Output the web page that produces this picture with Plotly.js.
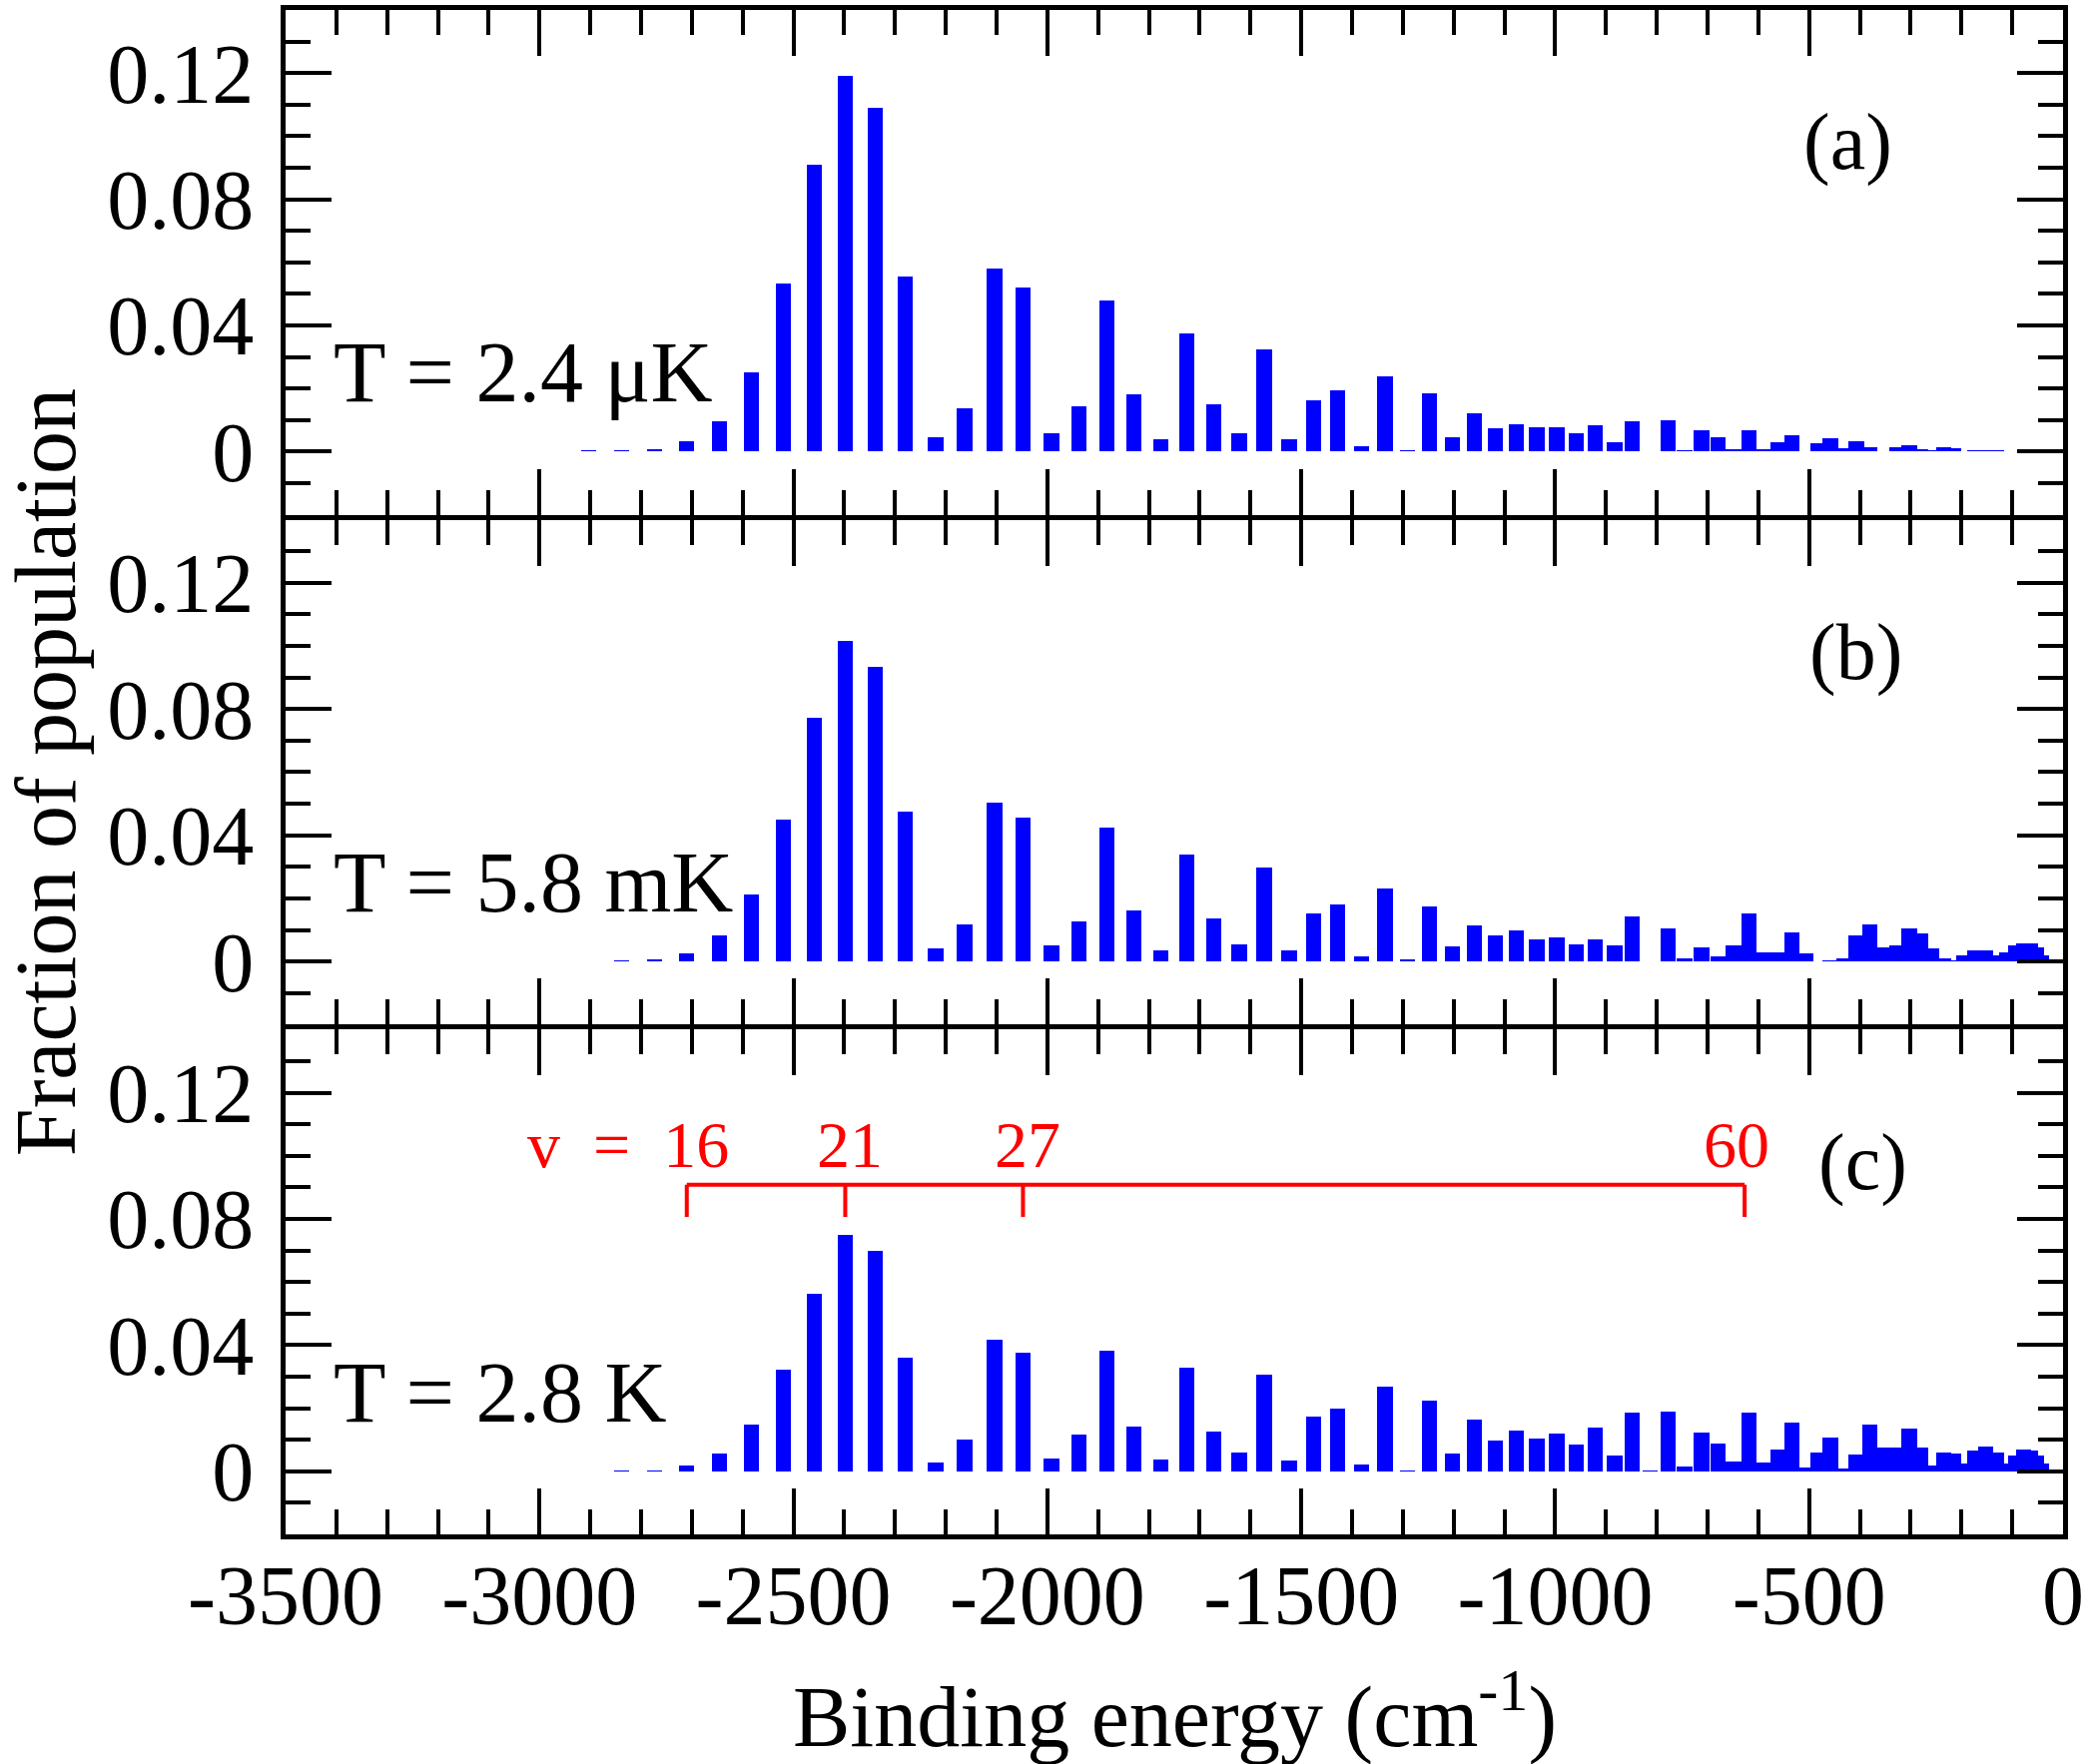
<!DOCTYPE html>
<html>
<head>
<meta charset="utf-8">
<script src="https://cdn.plot.ly/plotly-3.0.1.min.js"></script>
<style>
  html, body { margin: 0; padding: 0; background: #fff; }
  #chart { width: 2096px; height: 1767px; }
</style>
</head>
<body>
<div id="chart"></div>
<script>
// binding energies of the levels (cm^-1)
var LEVELS = [-2903, -2838, -2773, -2710, -2646, -2583, -2520, -2459, -2398, -2339,
  -2280, -2220, -2163, -2104, -2048, -1992, -1938, -1883, -1829, -1776,
  -1725, -1672, -1622, -1573, -1524, -1476, -1429, -1382, -1335, -1291,
  -1247, -1203, -1159, -1118, -1077, -1036, -997, -958, -921, -883,
  -848, -813, -778, -745, -712, -680, -649, -619, -589, -562,
  -534, -507, -483, -458, -431, -407, -380, -352, -327, -303,
  -280, -258, -235, -215, -195, -174, -152, -131, -111, -93,
  -78, -64, -52, -42];

// fraction of population, T = 2.4 uK
var POP_A = [0.0004, 0.0004, 0.0008, 0.0033, 0.0097, 0.025, 0.0533, 0.091, 0.119, 0.109,
  0.0554, 0.0047, 0.0137, 0.0579, 0.0521, 0.0058, 0.0144, 0.0479, 0.0181, 0.0041,
  0.0375, 0.0149, 0.0059, 0.0323, 0.0039, 0.0163, 0.0196, 0.0016, 0.0238, 0.0006,
  0.0184, 0.0047, 0.0122, 0.0074, 0.0086, 0.0077, 0.0077, 0.0059, 0.0084, 0.0029,
  0.0097, 0.0003, 0.01, 0.0004, 0.0067, 0.0045, 0.0009, 0.0069, 0.0007, 0.0029,
  0.0052, 0.0001, 0.0027, 0.0043, 0.0011, 0.0033, 0.0014, 0.0002, 0.0014, 0.0022,
  0.0009, 0.0005, 0.0014, 0.0012, 0.0003, 0.0005, 0.0006, 0.0004, 0.0002, 0.0001,
  0.0001, 0.0001, 0.0001, 0.0001];

// T = 5.8 mK
var POP_B = [0, 0.0002, 0.0006, 0.0027, 0.0082, 0.0212, 0.045, 0.0772, 0.1016, 0.0935,
  0.0475, 0.004, 0.0118, 0.0503, 0.0456, 0.0052, 0.0127, 0.0424, 0.0163, 0.0036,
  0.0338, 0.0136, 0.0054, 0.0298, 0.0035, 0.0152, 0.0182, 0.0017, 0.023, 0.0006,
  0.0174, 0.0047, 0.0115, 0.0083, 0.01, 0.0069, 0.0076, 0.0055, 0.0069, 0.0052,
  0.0142, 0.0001, 0.0104, 0.001, 0.0044, 0.0017, 0.0052, 0.0152, 0.0028, 0.003,
  0.0092, 0.0025, 0.0001, 0.0004, 0.0009, 0.0082, 0.0116, 0.0045, 0.0052, 0.0104,
  0.0089, 0.004, 0.001, 0.0005, 0.0019, 0.0034, 0.0036, 0.0019, 0.003, 0.005,
  0.0057, 0.0056, 0.0045, 0.002];

// T = 2.8 K
var POP_C = [0, 0.0002, 0.0003, 0.0019, 0.0056, 0.0148, 0.0322, 0.0561, 0.0749, 0.07,
  0.0359, 0.0029, 0.01, 0.0417, 0.0377, 0.004, 0.0117, 0.0382, 0.0142, 0.0038,
  0.0327, 0.0126, 0.0059, 0.0306, 0.0034, 0.0172, 0.02, 0.0022, 0.0267, 0.0004,
  0.0225, 0.0055, 0.0163, 0.0096, 0.013, 0.0104, 0.012, 0.0085, 0.0137, 0.0049,
  0.0185, 0.0003, 0.019, 0.0015, 0.0123, 0.0088, 0.0031, 0.0187, 0.0028, 0.0069,
  0.0154, 0.0013, 0.0058, 0.0108, 0.0008, 0.0053, 0.0149, 0.0074, 0.0074, 0.0134,
  0.0076, 0.0017, 0.006, 0.0056, 0.0026, 0.0066, 0.0079, 0.0058, 0.0024, 0.005,
  0.0068, 0.0066, 0.005, 0.0024];

var TEMPS = ["T = 2.4 \u03bcK", "T = 5.8 mK", "T = 2.8 K"];
var PANEL_TAGS = ["(a)", "(b)", "(c)"];

var X_TICKS = [-3500, -3000, -2500, -2000, -1500, -1000, -500, 0];
var X_TICK_TEXT = ["-3500", "-3000", "-2500", "-2000", "-1500", "-1000", "-500", "0"];
var Y_TICKS = [0, 0.04, 0.08, 0.12];
var Y_TICK_TEXT = ["0", "0.04", "0.08", "0.12"];

// v labels marked in panel (c)
var MARK_V = [-2710, -2398, -2048, -627];
var MARK_TEXT = ["v\u00a0\u00a0=\u00a0\u00a016", "21", "27", "60"];

(function () {
  var FONT = "Liberation Serif, Times New Roman, serif";
  var BLUE = "#0000ff";
  var RED = "#ff0000";
  var LW = 5;            // frame line width
  var PLOT_H = 1767 - 10 - 230;
  var PANEL_H = (PLOT_H - 2 * LW) / 3;
  var TAG_X = [-423, -408, -394];
  var MARK_TEXT_X = [-2826, -2389, -2040, -643];

  function xAxis(anchor, showLabels) {
    return {
      anchor: anchor,
      range: [-3500, 0],
      showline: true,
      linecolor: "#000",
      linewidth: LW,
      mirror: "ticks",
      ticks: "inside",
      ticklen: 46,
      tickwidth: 4,
      tickcolor: "#000",
      tickvals: X_TICKS,
      ticktext: X_TICK_TEXT,
      showticklabels: showLabels,
      tickfont: { family: FONT, size: 84, color: "#000" },
      ticklabelstandoff: -16,
      minor: { ticks: "inside", dtick: 100, tick0: 0, ticklen: 25, tickwidth: 4, tickcolor: "#000" },
      showgrid: false,
      zeroline: false,
      fixedrange: true,
    };
  }

  function yAxis(domain, anchor) {
    return {
      domain: domain,
      anchor: anchor,
      range: [-0.02, 0.14],
      showline: true,
      linecolor: "#000",
      linewidth: LW,
      mirror: "ticks",
      ticks: "inside",
      ticklen: 46,
      tickwidth: 4,
      tickcolor: "#000",
      tickvals: Y_TICKS,
      ticktext: Y_TICK_TEXT,
      tickfont: { family: FONT, size: 84, color: "#000" },
      ticklabelstandoff: 10,
      minor: { ticks: "inside", dtick: 0.01, tick0: 0, ticklen: 25, tickwidth: 4, tickcolor: "#000" },
      showgrid: false,
      zeroline: false,
      fixedrange: true,
    };
  }

  // panels overlap by one line width so that shared frame lines coincide
  var f = PANEL_H / PLOT_H;
  var g = LW / PLOT_H;
  var domA = [1 - f, 1];
  var domB = [1 - 2 * f - g, 1 - f - g];
  var domC = [0, f];

  var pops = [POP_A, POP_B, POP_C];
  var axSuffix = ["", "2", "3"];
  var traces = pops.map(function (p, i) {
    return {
      type: "bar",
      x: LEVELS,
      y: p,
      width: 30,
      xaxis: "x" + axSuffix[i],
      yaxis: "y" + axSuffix[i],
      marker: { color: BLUE, line: { width: 0 } },
      hoverinfo: "x+y",
      showlegend: false,
    };
  });

  var annotations = [];
  for (var i = 0; i < 3; i++) {
    annotations.push({
      xref: "x" + axSuffix[i], yref: "y" + axSuffix[i],
      x: -3410, y: 0.025, xanchor: "left", yanchor: "middle",
      text: TEMPS[i], showarrow: false,
      font: { family: FONT, size: 86, color: "#000" },
    });
    annotations.push({
      xref: "x" + axSuffix[i], yref: "y" + axSuffix[i],
      x: TAG_X[i], y: 0.098, xanchor: "center", yanchor: "middle",
      text: PANEL_TAGS[i], showarrow: false,
      font: { family: FONT, size: 80, color: "#000" },
    });
  }
  MARK_TEXT.forEach(function (t, j) {
    annotations.push({
      xref: "x3", yref: "y3",
      x: MARK_TEXT_X[j], y: 0.1035, xanchor: "center", yanchor: "middle",
      text: t, showarrow: false,
      font: { family: FONT, size: 66, color: RED },
    });
  });
  annotations.push({
    xref: "paper", yref: "paper", x: -0.135, y: 0.5,
    xanchor: "center", yanchor: "middle", textangle: -90,
    text: "Fraction of population", showarrow: false,
    font: { family: FONT, size: 86, color: "#000" },
  });
  annotations.push({
    xref: "paper", yref: "paper", x: 0.5, y: -0.1155,
    xanchor: "center", yanchor: "middle",
    text: "Binding energy (cm<sup>-1</sup>)", showarrow: false,
    font: { family: FONT, size: 86, color: "#000" },
  });

  var shapes = [{
    type: "line", xref: "x3", yref: "y3",
    x0: MARK_V[0], x1: MARK_V[MARK_V.length - 1], y0: 0.0908, y1: 0.0908,
    line: { color: RED, width: 4 },
  }];
  MARK_V.forEach(function (v) {
    shapes.push({
      type: "line", xref: "x3", yref: "y3",
      x0: v, x1: v, y0: 0.0908, y1: 0.0806,
      line: { color: RED, width: 4 },
    });
  });

  var layout = {
    width: 2096,
    height: 1767,
    margin: { l: 286, r: 30, t: 10, b: 230 },
    paper_bgcolor: "#fff",
    plot_bgcolor: "#fff",
    bargap: 0,
    barmode: "overlay",
    showlegend: false,
    font: { family: FONT, color: "#000" },
    xaxis: xAxis("y", false),
    xaxis2: xAxis("y2", false),
    xaxis3: xAxis("y3", true),
    yaxis: yAxis(domA, "x"),
    yaxis2: yAxis(domB, "x2"),
    yaxis3: yAxis(domC, "x3"),
    annotations: annotations,
    shapes: shapes,
  };

  Plotly.newPlot("chart", traces, layout, { displayModeBar: false, staticPlot: true });
})();
</script>
</body>
</html>
